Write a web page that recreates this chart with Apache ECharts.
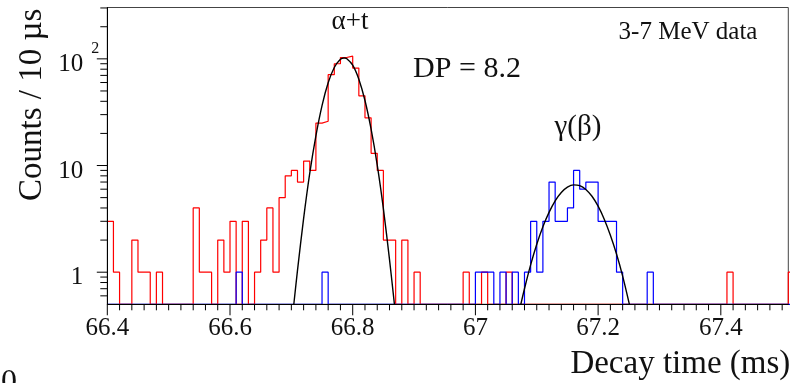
<!DOCTYPE html>
<html><head><meta charset="utf-8">
<script src="https://cdn.jsdelivr.net/npm/echarts@6/dist/echarts.min.js"></script>
<style>html,body{margin:0;padding:0;background:#fff}#c{width:798px;height:383px}</style>
</head><body><div id="c"></div>
<script>
// ---- data ----
const binStart = 66.40;      // ms, left edge of first bin
const binWidth = 0.01;       // ms (10 µs)
const redCounts = [
  3,1,0,0,2,1,1,0,1,0,
  0,0,0,0,4,1,1,0,2,1,
  3,0,3,0,1,2,4,1,5,8,
  9,7,11,9,25,26,71,90,103,106,
  82,45,28,13,9,2,2,0,2,0,
  1,0,0,0,0,0,0,0,1,0,
  0,1,0,0,0,1,0,0,0,0,
  0,0,0,0,0,0,0,0,0,0,
  0,0,0,0,0,0,0,0,0,0,
  0,0,0,0,0,0,0,0,0,0,
  0,1,0,0,0,0,0,0,0,0,
  0,1
];
const blueCounts = [
  0,0,0,0,0,0,0,0,0,0,
  0,0,0,0,0,0,0,0,0,0,
  0,1,0,0,0,0,0,0,0,0,
  0,0,0,0,0,1,0,0,0,0,
  0,0,0,0,0,0,0,0,0,0,
  0,0,0,0,0,0,0,0,0,0,
  1,1,1,0,1,0,1,0,1,3,
  1,3,7,3,3,4,9,6,7,7,
  3,3,3,1,0,0,0,0,1,0,
  0,0,0,0,0,0,0,0,0,0,
  0,0,0,0,0,0,0,0,0,0,
  0,0
];
const alphaFitX = [66.704,66.71,66.72,66.73,66.74,66.75,66.76,66.77,66.78,66.786,66.79,66.80,66.81,66.82,66.83,66.84,66.85,66.86,66.868];
const alphaFitY = [0.5,1.04,3.2,8.5,19,36.5,59.6,83,99,102,100.7,87.3,64.4,40.7,21.9,10.1,3.95,1.31,0.5];
const gammaFitX = [67.074,67.08,67.09,67.10,67.11,67.12,67.13,67.14,67.15,67.16,67.17,67.18,67.19,67.20,67.21,67.22,67.23,67.24,67.251];
const gammaFitY = [0.5,0.70,1.17,1.83,2.67,3.64,4.67,5.59,6.27,6.59,6.48,5.97,5.15,4.16,3.14,2.22,1.48,0.92,0.5];

const xMin = 66.4, xMax = 67.51;
const yMin = 0.5, yMax = 303;
const xMajorTicks = [66.4, 66.6, 66.8, 67.0, 67.2, 67.4];
const xMinorTicks = [66.42,66.44,66.46,66.48,66.50,66.52,66.54,66.56,66.58,
  66.62,66.64,66.66,66.68,66.70,66.72,66.74,66.76,66.78,
  66.82,66.84,66.86,66.88,66.90,66.92,66.94,66.96,66.98,
  67.02,67.04,67.06,67.08,67.10,67.12,67.14,67.16,67.18,
  67.22,67.24,67.26,67.28,67.30,67.32,67.34,67.36,67.38,
  67.42,67.44,67.46,67.48,67.50];
const yMajorTicks = [1, 10, 100];
const yMinorTicks = [0.6,0.7,0.8,0.9,2,3,4,5,6,7,8,9,20,30,40,50,60,70,80,90,200,300];

// ---- build series data ----
function histData(counts) {
  const d = counts.map((c, i) => [+(binStart + i * binWidth).toFixed(2), c > 0 ? c : yMin]);
  const last = counts[counts.length - 1];
  d.push([+(binStart + counts.length * binWidth).toFixed(2), last > 0 ? last : yMin]);
  return d;
}
const zip = (xs, ys) => xs.map((x, i) => [x, ys[i]]);

const FONT = '"Liberation Serif", "Times New Roman", serif';
const TXT = '#111';

const chart = echarts.init(document.getElementById('c'), null, {renderer: 'canvas'});
chart.setOption({
  animation: false,
  backgroundColor: '#fff',
  grid: {left: 107.3, top: 7.5, width: 681, height: 296.8, show: true, borderColor: '#444', borderWidth: 1, backgroundColor: 'transparent'},
  xAxis: {
    type: 'value', min: xMin, max: xMax, interval: 0.2, z: 10,
    axisLine: {show: true, lineStyle: {color: '#000', width: 1}},
    axisTick: {show: false}, splitLine: {show: false},
    axisLabel: {
      fontFamily: FONT, fontSize: 25, color: TXT, margin: 12, showMaxLabel: false,
      formatter: v => (Math.abs(v - xMax) < 1e-6 ? '' : String(parseFloat(v.toFixed(2))))
    },
    name: 'Decay time (ms)', nameLocation: 'end', nameGap: 2, nameMoveOverlap: false,
    nameTextStyle: {fontFamily: FONT, fontSize: 33, color: TXT, align: 'right', verticalAlign: 'top', padding: [44, 0, 0, 0]}
  },
  yAxis: {
    type: 'log', logBase: 10, min: yMin, max: yMax, z: 10,
    axisLine: {show: true, lineStyle: {color: '#000', width: 1}},
    axisTick: {show: false}, splitLine: {show: false}, minorTick: {show: false},
    axisLabel: {
      margin: 8, showMinLabel: false, showMaxLabel: false,
      formatter: v => {
        const p = Math.log10(v);
        const r = Math.round(p);
        if (Math.abs(p - r) > 1e-6 || r < 0 || r > 2) return '';
        if (r === 2) return '{n|10}{e|2}';
        return '{n|' + Math.pow(10, r) + '}{p| }';
      },
      rich: {
        n: {fontFamily: FONT, fontSize: 25, color: TXT, lineHeight: 36, verticalAlign: 'bottom'},
        p: {fontFamily: FONT, fontSize: 16, width: 16, lineHeight: 16},
        e: {fontFamily: FONT, fontSize: 16, color: TXT, width: 16, align: 'right', lineHeight: 16, verticalAlign: 'top'}
      }
    },
    name: 'Counts / 10 µs', nameLocation: 'middle', nameRotate: 90, nameGap: 58, nameMoveOverlap: false,
    nameTextStyle: {fontFamily: FONT, fontSize: 33, color: TXT, padding: [0, 0, 0, 102]}
  },
  series: [
    {type: 'line', name: 'alpha+t', step: 'end', data: histData(redCounts), symbol: 'none', clip: true,
     lineStyle: {color: '#ff0000', width: 1.2}, z: 2},
    {type: 'line', name: 'gamma', step: 'end', data: histData(blueCounts), symbol: 'none', clip: true,
     lineStyle: {color: '#0000ff', width: 1.2}, z: 3},
    {type: 'line', name: 'fit alpha', data: zip(alphaFitX, alphaFitY), smooth: 0.3, symbol: 'none', clip: true,
     lineStyle: {color: '#000', width: 1.4}, z: 4},
    {type: 'line', name: 'fit gamma', data: zip(gammaFitX, gammaFitY), smooth: 0.3, symbol: 'none', clip: true,
     lineStyle: {color: '#000', width: 1.4}, z: 4},
    {type: 'custom', name: 'ticks', coordinateSystem: 'cartesian2d', clip: false, silent: true, z: 11,
     data: [[xMin, yMin]],
     renderItem: (params, api) => {
       const ch = [];
       const base = api.coord([xMin, yMin]);
       const yb = base[1], xl = base[0];
       const ln = (x1, y1, x2, y2) => ch.push({type: 'line', shape: {x1, y1, x2, y2}, style: {stroke: '#000', lineWidth: 1}});
       xMajorTicks.forEach(v => { const x = api.coord([v, yMin])[0]; ln(x, yb, x, yb + 11); });
       xMinorTicks.forEach(v => { const x = api.coord([v, yMin])[0]; ln(x, yb, x, yb + 6); });
       yMajorTicks.forEach(v => { const y = api.coord([xMin, v])[1]; ln(xl - 10.5, y, xl, y); });
       yMinorTicks.forEach(v => { if (v > yMax) return; const y = api.coord([xMin, v])[1]; ln(xl - 7, y, xl, y); });
       return {type: 'group', children: ch};
     }}
  ],
  graphic: [
    {type: 'text', x: 350, y: 22, style: {text: 'α+t', fontFamily: FONT, fontSize: 27, fill: TXT, align: 'center', verticalAlign: 'middle'}},
    {type: 'text', x: 467, y: 69, style: {text: 'DP = 8.2', fontFamily: FONT, fontSize: 30, fill: TXT, align: 'center', verticalAlign: 'middle'}},
    {type: 'text', x: 578, y: 127, style: {text: 'γ(β)', fontFamily: FONT, fontSize: 29, fill: TXT, align: 'center', verticalAlign: 'middle'}},
    {type: 'text', x: 688, y: 32, style: {text: '3-7 MeV data', fontFamily: FONT, fontSize: 25, fill: TXT, align: 'center', verticalAlign: 'middle'}},
    {type: 'text', x: 1, y: 367, style: {text: '0', fontFamily: FONT, fontSize: 32, fill: TXT, align: 'left', verticalAlign: 'top'}}
  ]
});
</script></body></html>
